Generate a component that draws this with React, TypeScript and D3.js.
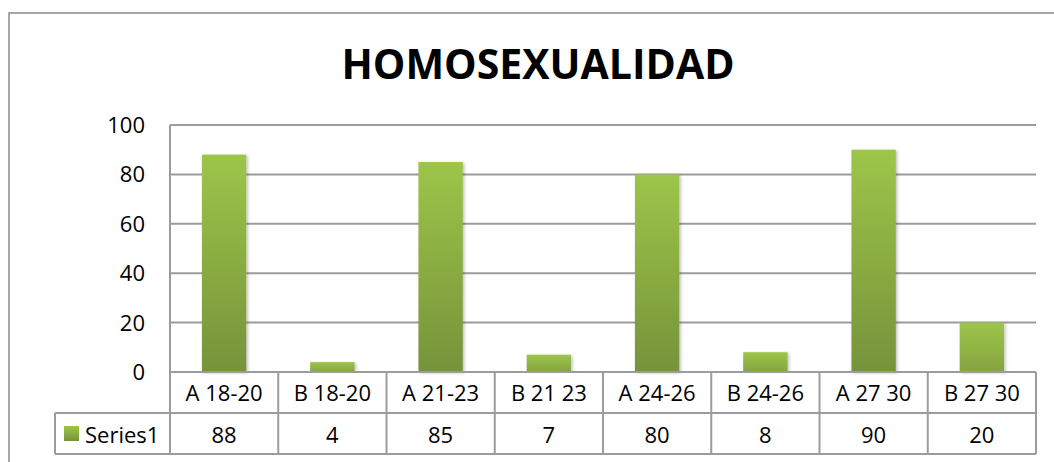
import React from 'react';
import * as d3 from 'd3';

const title = 'HOMOSEXUALIDAD';
const categories = ['A 18-20', 'B 18-20', 'A 21-23', 'B 21 23', 'A 24-26', 'B 24-26', 'A 27 30', 'B 27 30'];
const seriesName = 'Series1';
const values = [88, 4, 85, 7, 80, 8, 90, 20];
const yTicks = [0, 20, 40, 60, 80, 100];

const W = 1054;
const H = 462;
const plot = { left: 170, right: 1036, top: 125, bottom: 372 };
const rowH = 41;
const font = '"Open Sans", "Noto Sans", sans-serif';
const lineColor = '#9c9c9c';

export default function App() {
  // x: one cell per category, y: 0..100
  const x = d3.scaleBand<string>().domain(categories).range([plot.left, plot.right]).padding(0);
  const y = d3.scaleLinear().domain([0, 100]).range([plot.bottom, plot.top]);
  const barW = x.bandwidth() * 0.41;

  const row1 = plot.bottom + rowH;
  const row2 = row1 + rowH;
  const legendLeft = 55;

  return (
    <svg width={W} height={H} style={{ position: 'absolute', left: 0, top: 0, background: '#fff' }}>
      <defs>
        <linearGradient id="barGrad" x1="0" y1="0" x2="0" y2="1">
          <stop offset="0" stopColor="#9dc549" />
          <stop offset="1" stopColor="#76933a" />
        </linearGradient>
        <linearGradient id="barGradShort" x1="0" y1="0" x2="0" y2="1">
          <stop offset="0" stopColor="#9dc549" />
          <stop offset="1" stopColor="#84a440" />
        </linearGradient>
        <filter id="shadow" x="-20%" y="-5%" width="140%" height="110%">
          <feDropShadow dx="1.5" dy="1" stdDeviation="1.5" floodColor="#000" floodOpacity="0.25" />
        </filter>
      </defs>

      {/* outer chart frame */}
      <rect x={9} y={13} width={W} height={H} fill="none" stroke="#8a8a8a" strokeWidth={1.5} />

      <text x={538} y={79} textAnchor="middle" fontFamily={font} fontWeight="bold" fontSize={41} fill="#000">
        {title}
      </text>

      {/* gridlines */}
      {yTicks.map(t => (
        <line key={t} x1={plot.left} x2={plot.right} y1={y(t)} y2={y(t)} stroke={lineColor} strokeWidth={2} />
      ))}
      <line x1={plot.left} x2={plot.left} y1={plot.top} y2={row2} stroke={lineColor} strokeWidth={2} />

      {/* y tick labels */}
      {yTicks.map(t => (
        <text key={t} x={145} y={y(t) + 8} textAnchor="end" fontFamily={font} fontSize={22} fill="#000">
          {t}
        </text>
      ))}

      {/* bars */}
      {values.map((v, i) => {
        const cx = (x(categories[i]) as number) + x.bandwidth() / 2;
        return (
          <rect
            key={i}
            x={cx - barW / 2}
            y={y(v)}
            width={barW}
            height={y(0) - y(v)}
            fill={v < 30 ? 'url(#barGradShort)' : 'url(#barGrad)'}
            filter="url(#shadow)"
          />
        );
      })}

      {/* data table */}
      <line x1={plot.left} x2={plot.right} y1={plot.bottom} y2={plot.bottom} stroke={lineColor} strokeWidth={2} />
      <line x1={legendLeft} x2={plot.right} y1={row1} y2={row1} stroke={lineColor} strokeWidth={2} />
      <line x1={legendLeft} x2={plot.right} y1={row2} y2={row2} stroke={lineColor} strokeWidth={2} />
      <line x1={legendLeft} x2={legendLeft} y1={row1} y2={row2} stroke={lineColor} strokeWidth={2} />
      {categories.map(c => (
        <line
          key={c}
          x1={(x(c) as number) + x.bandwidth()}
          x2={(x(c) as number) + x.bandwidth()}
          y1={plot.bottom}
          y2={row2}
          stroke={lineColor}
          strokeWidth={2}
        />
      ))}
      {categories.map(c => (
        <text
          key={c}
          x={(x(c) as number) + x.bandwidth() / 2}
          y={row1 - 12}
          textAnchor="middle"
          fontFamily={font}
          fontSize={22}
          fill="#000"
        >
          {c}
        </text>
      ))}
      {values.map((v, i) => (
        <text
          key={i}
          x={(x(categories[i]) as number) + x.bandwidth() / 2}
          y={row2 - 11}
          textAnchor="middle"
          fontFamily={font}
          fontSize={22}
          fill="#000"
        >
          {v}
        </text>
      ))}

      {/* legend key */}
      <rect x={64} y={426} width={15} height={15} fill="url(#barGrad)" />
      <text x={85} y={row2 - 11} fontFamily={font} fontSize={22} fill="#000">
        {seriesName}
      </text>
    </svg>
  );
}
